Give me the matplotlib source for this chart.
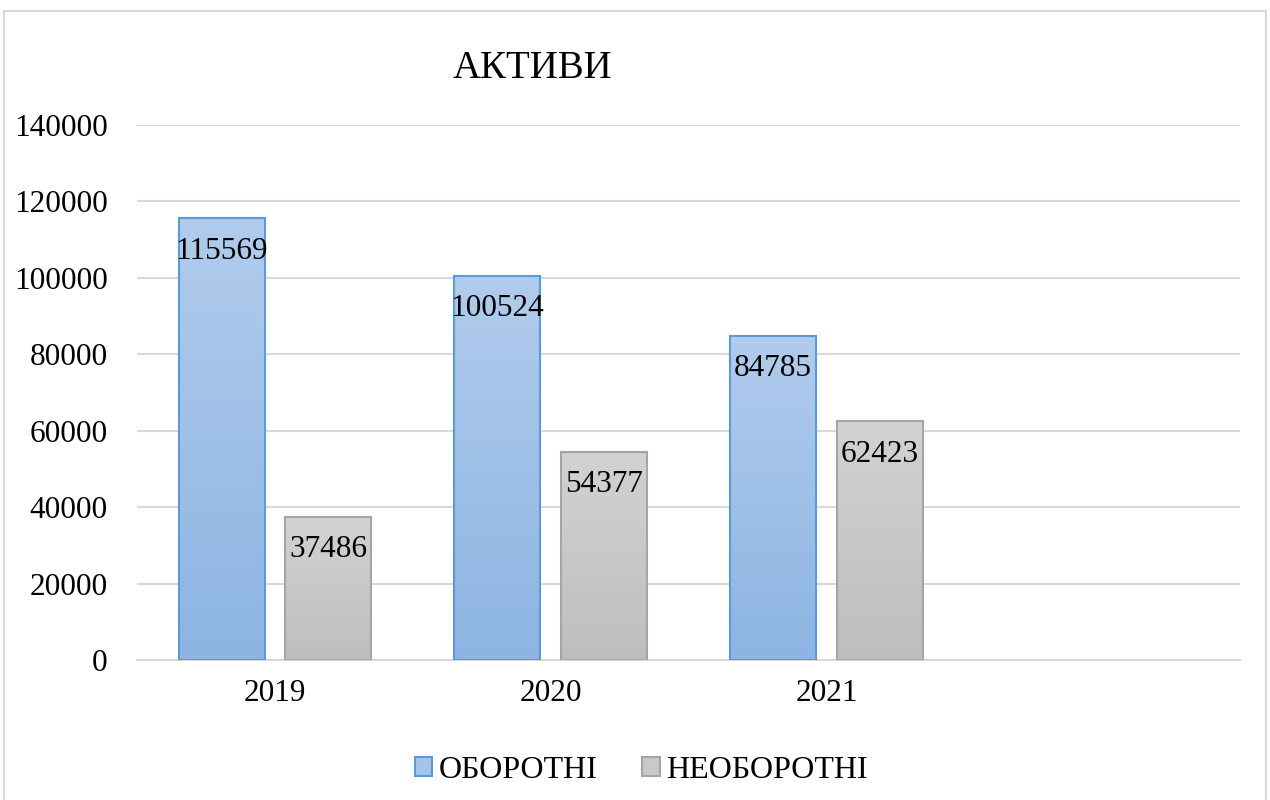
import numpy as np
import matplotlib
matplotlib.use('Agg')
import matplotlib.pyplot as plt
from matplotlib.patches import Rectangle, Patch

plt.rcParams['font.family'] = ['Liberation Serif', 'DejaVu Serif']

years = ['2019', '2020', '2021', '']
current = [115569, 100524, 84785]
noncurrent = [37486, 54377, 62423]
series_names = ['ОБОРОТНІ', 'НЕОБОРОТНІ']


def gradient_bar(ax, x, w, h, top_rgb, bot_rgb, edge):
    grad = np.linspace(0, 1, 256).reshape(-1, 1)
    top = np.array(top_rgb) / 255
    bot = np.array(bot_rgb) / 255
    img = (top[None, None, :] * (1 - grad[:, :, None]) + bot[None, None, :] * grad[:, :, None])
    im = ax.imshow(img, extent=(x - w / 2, x + w / 2, 0, h), origin='upper',
                   aspect='auto', zorder=2, interpolation='bilinear')
    r = Rectangle((x - w / 2, 0), w, h, facecolor='none', edgecolor=edge, lw=1.5, zorder=3)
    ax.add_patch(r)
    im.set_clip_path(r)


fig = plt.figure(figsize=(12.7, 8), dpi=100)
ax = fig.add_axes([0.1079, 0.175, 0.8685, 0.66875])

idx = np.arange(len(years))
w = 0.312
off = 0.193
for i in range(len(current)):
    gradient_bar(ax, idx[i] - off, w, current[i], (177, 204, 236), (141, 180, 227), '#5b9bd5')
    gradient_bar(ax, idx[i] + off, w, noncurrent[i], (210, 210, 210), (190, 190, 190), '#a5a5a5')
    for xv, v in ((idx[i] - off, current[i]), (idx[i] + off, noncurrent[i])):
        ax.annotate(str(v), (xv, v), xytext=(0, -23.5), textcoords='offset points',
                    ha='center', va='center', fontsize=22.5, zorder=4)

ax.set_xlim(-0.5, 3.5)
ax.set_ylim(0, 140000)
ax.set_yticks(np.arange(0, 140001, 20000))
ax.set_xticks(idx[:3])
ax.set_xticklabels(years[:3])
ax.tick_params(axis='both', length=0, labelsize=22.5)
ax.tick_params(axis='y', pad=21)
ax.tick_params(axis='x', pad=14)
ax.grid(axis='y', color='#d9d9d9', lw=1.5, zorder=0)
ax.set_axisbelow(True)
for s in ['top', 'right', 'left']:
    ax.spines[s].set_visible(False)
ax.spines['bottom'].set_color('#d9d9d9')
ax.spines['bottom'].set_linewidth(1.5)

fig.text(0.419, 0.915, 'АКТИВИ', ha='center', va='center', fontsize=28)

handles = [Patch(facecolor='#a7c4e8', edgecolor='#5b9bd5', lw=1.5),
           Patch(facecolor='#c9c9c9', edgecolor='#a5a5a5', lw=1.5)]
fig.legend(handles, series_names, loc='center', bbox_to_anchor=(0.505, 0.037), ncol=2,
           frameon=False, fontsize=23, handlelength=0.55, handleheight=0.55,
           handletextpad=0.2, columnspacing=1.4)

fig.patches.append(Rectangle((0.003, -0.01), 0.994, 0.996, transform=fig.transFigure,
                             facecolor='none', edgecolor='#d9d9d9', lw=1.5))

fig.savefig('out.png', dpi=100)
